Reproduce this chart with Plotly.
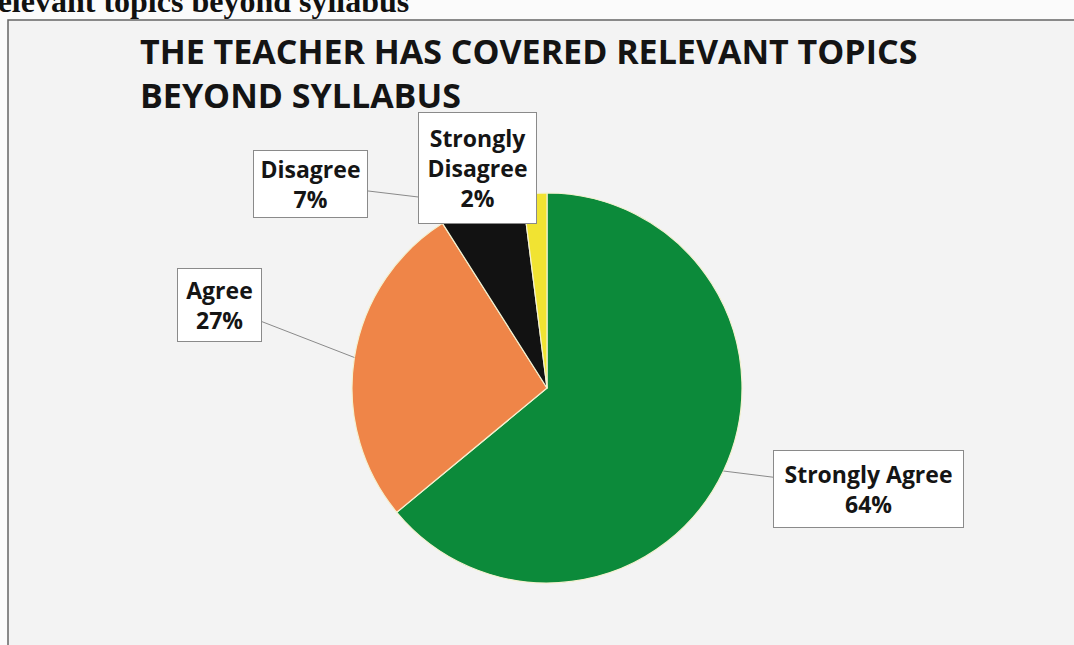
import math
import plotly.graph_objects as go

# ---- data ----
categories = ["Strongly Agree", "Agree", "Disagree", "Strongly Disagree"]
values = [64, 27, 7, 2]
label_texts = ["Strongly Agree<br>64%", "Agree<br>27%", "Disagree<br>7%", "Strongly<br>Disagree<br>2%"]
colors = ["#0c8a3a", "#ef8548", "#121212", "#f1e332"]
title_text = "THE TEACHER HAS COVERED RELEVANT TOPICS<br>BEYOND SYLLABUS"
caption_text = "relevant topics beyond syllabus"

W, H = 1074, 645
# pie placement (pixels)
cx_px, cy_px, r_px = 547, 388, 195

fig = go.Figure()
fig.add_trace(go.Pie(
    labels=categories,
    values=values,
    sort=False,
    direction="clockwise",
    rotation=0,
    marker=dict(colors=colors, line=dict(color="#f4f1d0", width=1.2)),
    textinfo="none",
    hoverinfo="label+percent",
    showlegend=False,
    domain=dict(x=[(cx_px - r_px) / W, (cx_px + r_px) / W],
                y=[1 - (cy_px + r_px) / H, 1 - (cy_px - r_px) / H]),
))

# label boxes: centre (px), text width/height
box_specs = {
    "Strongly Agree": dict(cx=868, cy=489, w=181, h=68),
    "Agree": dict(cx=219, cy=305, w=75, h=64),
    "Disagree": dict(cx=310, cy=184, w=105, h=58),
    "Strongly Disagree": dict(cx=477, cy=168, w=109, h=102),
}

total = sum(values)
cum = 0
annotations = []
for cat, v, txt in zip(categories, values, label_texts):
    mid = (cum + v / 2) / total * 2 * math.pi
    cum += v
    px = cx_px + r_px * math.sin(mid)
    py = cy_px - r_px * math.cos(mid)
    b = box_specs[cat]
    annotations.append(dict(
        x=px / W, y=1 - py / H, xref="paper", yref="paper",
        text="<b>" + txt + "</b>",
        showarrow=True, arrowhead=0, arrowwidth=1, arrowcolor="#8a8a8a",
        ax=b["cx"] - px, ay=b["cy"] - py,
        width=b["w"], height=b["h"],
        bgcolor="#ffffff", bordercolor="#8a8a8a", borderwidth=1, borderpad=4,
        font=dict(family="Open Sans", size=23, color="#151515"),
        align="center", valign="middle",
    ))

annotations.append(dict(
    x=138 / W, y=1 - 26 / H, xref="paper", yref="paper",
    xanchor="left", yanchor="top", showarrow=False, align="left",
    text="<b>" + title_text + "</b>",
    font=dict(family="Open Sans", size=34, color="#141414"),
))
annotations.append(dict(
    x=-18 / W, y=1 - 21 / H, xref="paper", yref="paper",
    xanchor="left", yanchor="bottom", showarrow=False, align="left",
    text="<b>" + caption_text + "</b>",
    font=dict(family="Liberation Serif", size=32, color="#111111"),
))

fig.update_layout(
    width=W, height=H,
    margin=dict(l=0, r=0, t=0, b=0),
    paper_bgcolor="#fbfbfb",
    plot_bgcolor="#f3f3f3",
    annotations=annotations,
    shapes=[dict(type="rect", xref="paper", yref="paper", layer="below",
                 x0=8 / W, x1=1.01, y0=-0.01, y1=1 - 20 / H,
                 fillcolor="#f3f3f3", line=dict(color="#666666", width=1.5))],
)

fig.write_html("out.html", config={"displayModeBar": False},
               post_script="document.body.style.margin='0';")
